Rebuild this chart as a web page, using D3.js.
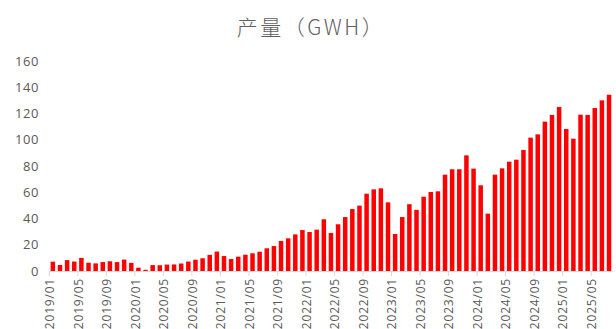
<!DOCTYPE html>
<html>
<head>
<meta charset="utf-8">
<script src="https://cdn.jsdelivr.net/npm/d3@7/dist/d3.min.js"></script>
<style>
  html, body { margin: 0; padding: 0; background: #fff; }
  svg { display: block; }
</style>
</head>
<body>
<svg id="chart" width="616" height="329"></svg>
<script>
// Monthly output, GWh, 2019/01 – 2025/07
const years = [2019, 2020, 2021, 2022, 2023, 2024, 2025];
const months = years.flatMap(y => d3.range(1, 13).map(m => `${y}/${String(m).padStart(2, "0")}`)).slice(0, 79);

const output = [
  7.1, 4.6, 8.3, 7.2, 10.0, 6.3, 5.8, 6.8, 7.4, 6.8, 8.7, 6.2,   // 2019
  2.5, 0.9, 4.5, 4.4, 4.9, 5.0, 5.7, 7.2, 8.6, 9.7, 12.3, 14.8,  // 2020
  11.4, 9.1, 10.9, 12.4, 13.5, 14.7, 17.3, 19.0, 22.9, 24.9, 27.9, 31.2, // 2021
  29.7, 31.5, 39.4, 29.0, 35.6, 41.1, 47.2, 49.8, 58.9, 62.2, 63.0, 52.3, // 2022
  28.2, 41.1, 50.9, 46.6, 56.6, 60.2, 60.7, 73.4, 77.5, 77.5, 88.1, 78.0, // 2023
  65.3, 43.7, 73.4, 78.2, 83.3, 84.8, 92.2, 101.6, 104.1, 113.8, 118.9, 125.0, // 2024
  108.2, 100.8, 119.1, 118.9, 124.2, 130.0, 134.3                 // 2025
];

const yTicks = [0, 20, 40, 60, 80, 100, 120, 140, 160];
const labelEvery = 4;
const title = "产量（GWH）";

const svg = d3.select("#chart");
const left = 49.3, right = 612.6, zeroY = 271, topY = 61;
const pad = 0.37;

const x = d3.scaleBand()
  .domain(months)
  .range([left, right])
  .paddingInner(pad)
  .paddingOuter(pad / 2);

const y = d3.scaleLinear().domain([0, 160]).range([zeroY, topY]);

const textColor = "#595959";
const numFont = "'Open Sans', 'Noto Sans', sans-serif";

// Title
svg.append("text")
  .attr("x", 311)
  .attr("y", 35)
  .attr("text-anchor", "middle")
  .attr("fill", "#5f5f5f")
  .style("font-family", "'Noto Sans CJK SC', 'Open Sans', sans-serif")
  .style("font-weight", 300)
  .style("font-size", "21px")
  .style("letter-spacing", "2.5px")
  .text(title);

// Y axis labels
const yAxis = svg.append("g")
  .attr("transform", `translate(39,0)`)
  .call(d3.axisLeft(y).tickValues(yTicks).tickSize(0).tickPadding(0));
yAxis.select(".domain").remove();
yAxis.selectAll("text")
  .attr("fill", textColor)
  .style("font-family", numFont)
  .style("font-size", "13px")
  .style("letter-spacing", "0.6px");

// Bars
svg.append("g")
  .selectAll("rect")
  .data(months.map((m, i) => ({ m, v: output[i] })))
  .join("rect")
  .attr("x", d => x(d.m))
  .attr("width", x.bandwidth())
  .attr("y", d => y(d.v))
  .attr("height", d => zeroY - y(d.v))
  .attr("fill", "#ff0000");

// X axis: ticks and labels sit on the left edge of each labelled month
const step = x.step();
const xAxis = svg.append("g")
  .attr("transform", `translate(${-step / 2},${zeroY})`)
  .call(d3.axisBottom(x)
    .tickValues(months.filter((d, i) => i % labelEvery === 0))
    .tickSize(5)
    .tickPadding(0));
xAxis.select(".domain").remove();
xAxis.selectAll(".tick line").attr("stroke", "#d9d9d9");
xAxis.selectAll(".tick text")
  .attr("fill", textColor)
  .attr("transform", "rotate(-90)")
  .attr("x", -7)
  .attr("y", 0.5)
  .attr("dy", "0.35em")
  .attr("text-anchor", "end")
  .style("font-family", numFont)
  .style("font-size", "12px")
  .style("letter-spacing", "0.8px");

// Baseline
svg.append("line")
  .attr("x1", left).attr("x2", right)
  .attr("y1", zeroY + 0.5).attr("y2", zeroY + 0.5)
  .attr("stroke", "#d9d9d9")
  .attr("stroke-width", 1);
</script>
</body>
</html>
